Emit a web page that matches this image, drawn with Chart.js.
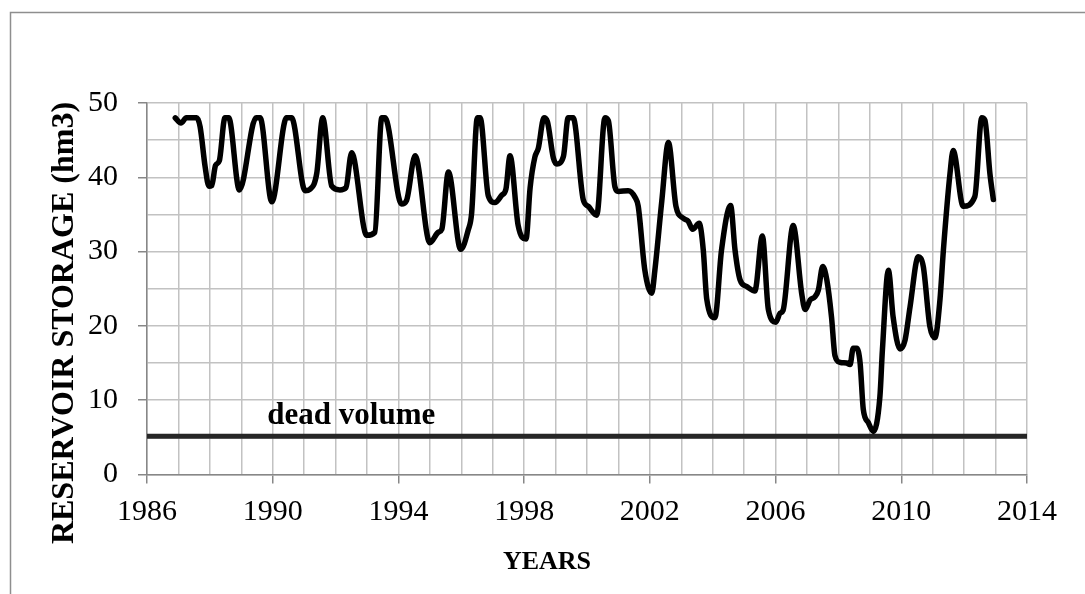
<!DOCTYPE html>
<html>
<head>
<meta charset="utf-8">
<title>Reservoir storage</title>
<script src="https://cdn.jsdelivr.net/npm/chart.js@4.4.1/dist/chart.umd.min.js"></script>
<style>
  html, body { margin: 0; padding: 0; background: #ffffff; }
  canvas { display: block; }
</style>
</head>
<body>
<canvas id="chart" width="1085" height="594"></canvas>
<script>
// Storage record: decimal year and volume (hm3)
const years = [
  1986.90, 1987.08, 1987.25, 1987.58, 1987.69, 1987.85, 1987.97, 1988.06, 1988.18, 1988.30,
  1988.48, 1988.60, 1988.94, 1989.47, 1989.60, 1989.97, 1990.44, 1990.60, 1991.03, 1991.19,
  1991.40, 1991.59, 1991.88, 1992.14, 1992.33, 1992.51, 1992.99, 1993.25, 1993.47, 1993.57,
  1994.10, 1994.26, 1994.53, 1995.00, 1995.27, 1995.38, 1995.59, 1995.98, 1996.22, 1996.33,
  1996.51, 1996.60, 1996.86, 1997.07, 1997.29, 1997.42, 1997.55, 1997.81, 1998.06, 1998.19,
  1998.34, 1998.45, 1998.63, 1998.74, 1998.93, 1999.04, 1999.25, 1999.40, 1999.56, 1999.88,
  2000.04, 2000.31, 2000.57, 2000.68, 2000.89, 2001.00, 2001.31, 2001.53, 2001.63, 2001.84,
  2002.06, 2002.16, 2002.38, 2002.59, 2002.83, 2003.06, 2003.22, 2003.36, 2003.57, 2003.70,
  2003.81, 2004.07, 2004.28, 2004.57, 2004.71, 2004.87, 2005.08, 2005.34, 2005.58, 2005.77,
  2006.01, 2006.14, 2006.24, 2006.56, 2006.83, 2006.94, 2007.10, 2007.25, 2007.36, 2007.50,
  2007.63, 2007.78, 2007.89, 2008.05, 2008.26, 2008.37, 2008.47, 2008.58, 2008.69, 2008.79,
  2008.95, 2009.11, 2009.32, 2009.40, 2009.59, 2009.74, 2009.96, 2010.12, 2010.28, 2010.54,
  2010.70, 2010.91, 2011.07, 2011.23, 2011.34, 2011.55, 2011.65, 2011.97, 2012.34, 2012.56,
  2012.66, 2012.82, 2012.93
];
const storage = [
  48.0, 47.3, 48.0, 48.0, 46.8, 41.4, 38.8, 38.9, 41.6, 42.2,
  48.0, 48.0, 38.3, 48.0, 48.0, 36.7, 48.0, 48.0, 38.2, 38.4,
  40.5, 48.0, 38.8, 38.3, 38.6, 43.3, 32.2, 32.6, 48.0, 48.0,
  36.4, 36.9, 42.9, 31.2, 32.6, 33.0, 40.7, 30.3, 32.9, 35.2,
  48.0, 48.0, 37.5, 36.6, 37.6, 38.4, 42.9, 33.5, 31.7, 38.6,
  42.7, 43.9, 48.0, 47.5, 42.6, 41.8, 42.8, 48.0, 48.0, 37.0,
  36.1, 34.9, 48.0, 47.6, 38.7, 38.1, 38.2, 37.3, 36.1, 27.5,
  24.4, 27.5, 36.8, 44.7, 36.1, 34.5, 34.1, 33.0, 33.8, 30.2,
  23.6, 21.1, 30.2, 36.2, 30.2, 26.2, 25.3, 24.7, 32.1, 22.2,
  20.5, 21.7, 22.1, 33.5, 24.4, 22.2, 23.5, 23.9, 24.8, 28.0,
  26.2, 21.2, 16.0, 15.1, 15.0, 14.8, 17.0, 17.0, 15.0, 8.8,
  7.0, 5.8, 10.5, 16.8, 27.5, 21.2, 16.9, 18.1, 22.6, 29.3,
  28.0, 19.9, 18.4, 23.5, 30.2, 40.5, 43.6, 36.1, 37.4, 48.0,
  47.7, 40.5, 37.0
];

// Dead storage level (hm3)
const deadVolume = 5.15;

// Axis ranges and tick labelling
const xRange = [1986, 2014];
const xLabelEvery = 4;
const yRange = [0, 50];
const yGridStep = 5;
const yLabelEvery = 10;

const serif = '"Liberation Serif", "Times New Roman", Times, serif';
const axisGrey = '#878787';
const gridGrey = '#c2c2c2';

function seq(a, b, step) {
  const out = [];
  for (let v = a; v <= b + 1e-9; v += step) out.push(Math.round(v * 100) / 100);
  return out;
}

const frameAndTitles = {
  id: 'frameAndTitles',
  beforeDraw(chart) {
    const ctx = chart.ctx;
    ctx.save();
    ctx.fillStyle = '#ffffff';
    ctx.fillRect(0, 0, chart.width, chart.height);
    ctx.strokeStyle = '#8e8e8e';
    ctx.lineWidth = 1.5;
    ctx.beginPath();
    ctx.moveTo(10.5, chart.height);
    ctx.lineTo(10.5, 12.5);
    ctx.lineTo(chart.width, 12.5);
    ctx.stroke();
    ctx.restore();
  },
  afterDraw(chart) {
    const ctx = chart.ctx;
    const xs = chart.scales.x, ys = chart.scales.y;
    ctx.save();
    ctx.fillStyle = '#000000';
    // dead volume label, sitting just above the dead storage line
    ctx.font = 'bold 31px ' + serif;
    ctx.textAlign = 'center';
    ctx.textBaseline = 'alphabetic';
    ctx.fillText('dead volume', xs.getPixelForValue(1992.5), ys.getPixelForValue(deadVolume) - 12);
    // x axis title
    ctx.font = 'bold 26px ' + serif;
    ctx.textBaseline = 'middle';
    ctx.fillText('YEARS', 547, 562);
    // y axis title
    ctx.translate(65, 323);
    ctx.rotate(-Math.PI / 2);
    ctx.font = 'bold 32px ' + serif;
    ctx.fillText('RESERVOIR STORAGE (hm3)', 0, 0);
    ctx.restore();
  }
};

new Chart(document.getElementById('chart'), {
  type: 'line',
  data: {
    datasets: [
      {
        label: 'Storage',
        data: years.map((x, i) => ({ x: x, y: storage[i] })),
        borderColor: '#000000',
        borderWidth: 5.5,
        borderJoinStyle: 'round',
        borderCapStyle: 'round',
        cubicInterpolationMode: 'monotone',
        pointRadius: 0,
        fill: false,
        order: 1
      },
      {
        label: 'Dead volume',
        data: [{ x: xRange[0], y: deadVolume }, { x: xRange[1], y: deadVolume }],
        borderColor: '#262626',
        borderWidth: 5,
        pointRadius: 0,
        fill: false,
        order: 2
      }
    ]
  },
  options: {
    responsive: false,
    animation: false,
    events: [],
    layout: { padding: { top: 103, right: 58, left: 0, bottom: 0 } },
    plugins: { legend: { display: false }, tooltip: { enabled: false } },
    scales: {
      x: {
        type: 'linear',
        min: xRange[0],
        max: xRange[1],
        afterBuildTicks(scale) {
          scale.ticks = seq(xRange[0], xRange[1], 1).map(v => ({ value: v }));
        },
        afterFit(scale) { scale.height = 119.5; },
        ticks: {
          autoSkip: false,
          maxRotation: 0,
          minRotation: 0,
          padding: 11,
          color: '#000000',
          font: { family: serif, size: 30 },
          callback: v => ((v - xRange[0]) % xLabelEvery === 0 ? String(v) : '')
        },
        grid: {
          color: gridGrey,
          lineWidth: 1.5,
          tickLength: 9,
          tickWidth: 1.5,
          tickColor: c => (c.tick && (c.tick.value - xRange[0]) % xLabelEvery === 0 ? axisGrey : 'rgba(0,0,0,0)')
        },
        border: { color: axisGrey, width: 1.5 }
      },
      y: {
        type: 'linear',
        min: yRange[0],
        max: yRange[1],
        afterBuildTicks(scale) {
          scale.ticks = seq(yRange[0], yRange[1], yGridStep).map(v => ({ value: v }));
        },
        afterFit(scale) { scale.width = 147; },
        ticks: {
          autoSkip: false,
          padding: 20,
          color: '#000000',
          font: { family: serif, size: 30 },
          callback: v => (v % yLabelEvery === 0 ? String(v) : '')
        },
        grid: {
          color: gridGrey,
          lineWidth: 1.5,
          tickLength: 9,
          tickWidth: 1.5,
          tickColor: c => (c.tick && c.tick.value % yLabelEvery === 0 ? axisGrey : 'rgba(0,0,0,0)')
        },
        border: { color: axisGrey, width: 1.5 }
      }
    }
  },
  plugins: [frameAndTitles]
});
</script>
</body>
</html>
